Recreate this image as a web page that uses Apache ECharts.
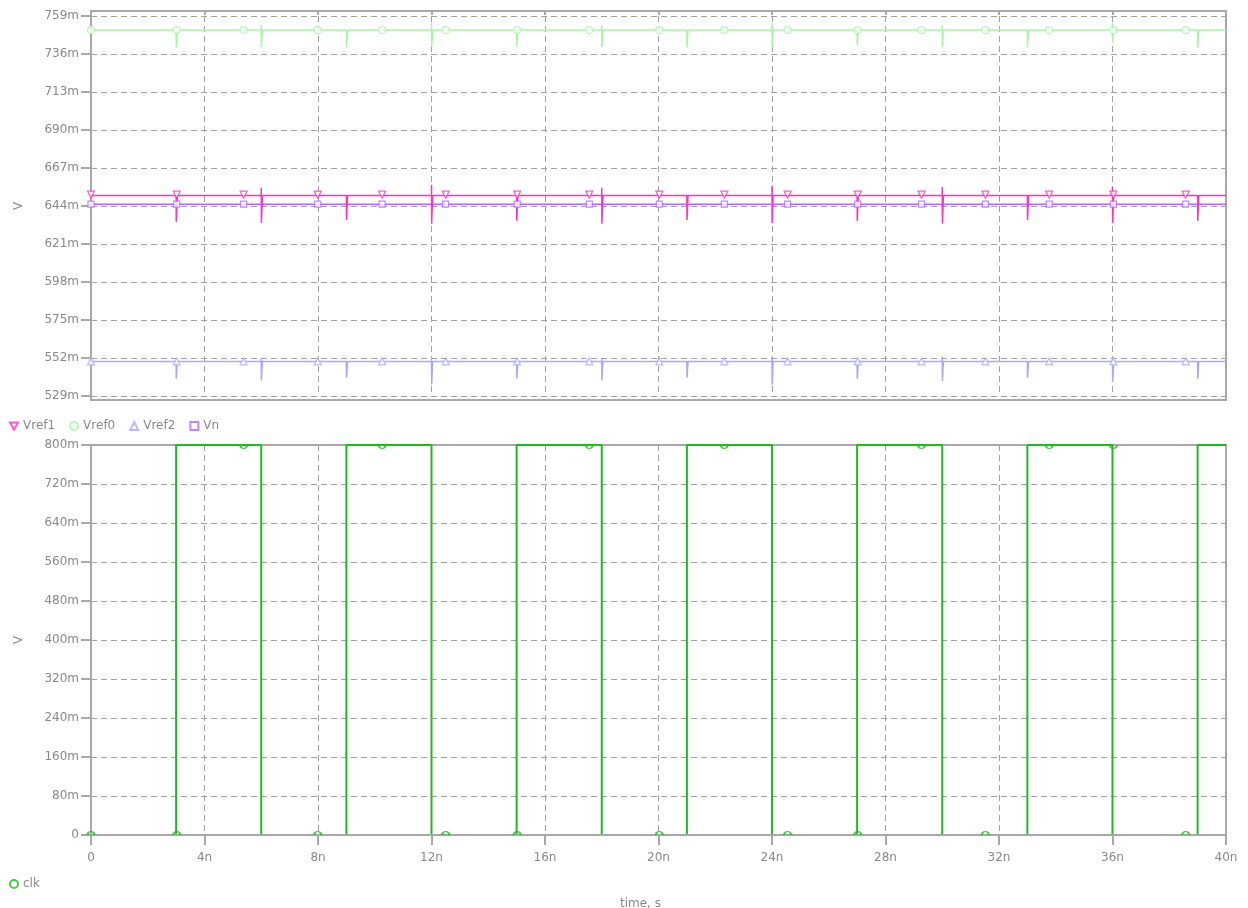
<!DOCTYPE html>
<html>
<head>
<meta charset="utf-8">
<title>Transient: Vref / clk</title>
<script src="https://cdn.jsdelivr.net/npm/echarts@6/dist/echarts.min.js"></script>
<style>
  html, body { margin: 0; padding: 0; background: #ffffff; }
  #chart { width: 1248px; height: 908px; }
</style>
</head>
<body>
<div id="chart"></div>
<script>
// Time axis in ns, voltages in mV
const timeTicks = [0, 4, 8, 12, 16, 20, 24, 28, 32, 36, 40];
const refTicks = [529, 552, 575, 598, 621, 644, 667, 690, 713, 736, 759];
const clkTicks = [0, 80, 160, 240, 320, 400, 480, 560, 640, 720, 800];

// clock edges (ns) and the clk level after each edge (mV)
const edgeTimes = [3, 6, 9, 12, 15, 18, 21, 24, 27, 30, 33, 36, 39];
const clkLevels = [800, 0, 800, 0, 800, 0, 800, 0, 800, 0, 800, 0, 800];

// settled levels of the reference nodes (mV)
const vref1Base = 650.3;
const vref0Base = 750.5;
const vref2Base = 549.9;
const vnBase = 645.1;

// glitch peaks at each clock edge (mV); null = no overshoot
const vref1High = [null, 655.0, null, 656.8, null, 655.0, null, 656.2, null, 655.5, null, 655.5, null];
const vref1Low  = [634.4, 633.8, 635.6, 633.2, 635.0, 633.2, 635.6, 633.8, 635.0, 633.2, 635.6, 633.8, 635.0];
const vref0High = [null, 753.6, null, 754.8, null, 753.6, null, 754.8, null, 753.6, null, 754.8, null];
const vref0Low  = [739.9, 740.2, 740.0, 740.2, 740.5, 740.2, 740.0, 740.2, 741.5, 740.2, 740.0, 743.0, 740.0];
const vref2High = [null, 552.2, null, 552.8, null, 552.2, null, 552.8, null, 552.8, null, 552.8, null];
const vref2Low  = [539.5, 538.4, 540.0, 535.8, 539.5, 538.4, 540.0, 535.8, 539.5, 538.0, 540.0, 537.5, 539.5];

// marker positions along the traces (ns) and clk marker levels (mV)
const markTimes = [0, 3.02, 5.38, 7.99, 10.26, 12.5, 15.02, 17.56, 20.03, 22.32, 24.55, 27.02, 29.27, 31.52, 33.77, 36.03, 38.58];
const clkMarkVals = [0, 0, 800, 0, 800, 0, 0, 800, 0, 800, 0, 0, 800, 0, 800, 800, 0];

const C = {
  vref1: '#ff33b8',
  vref0: '#a4f7a4',
  vref2: '#a8a8ff',
  vn: '#b266ff',
  clk: '#22b822',
  axis: '#a8a8a8',
  grid: '#a0a0a0',
  text: '#888888'
};
const FONT = 'DejaVu Sans';
const downTri = 'path://M0,0L10,0L5,9Z';
// circle halves for markers that sit on the plot edge
const upperHalf = 'path://M0,5A5,5 0 0 1 10,5';
const lowerHalf = 'path://M0,0A5,5 0 0 0 10,0';

function glitchTrace(base, highs, lows) {
  const pts = [[0, base]];
  edgeTimes.forEach((t, i) => {
    pts.push([t, base]);
    if (highs && highs[i] != null) pts.push([t, highs[i]]);
    if (lows) pts.push([t + 0.005, lows[i]]);
    pts.push([t + 0.04, base]);
  });
  pts.push([40, base]);
  return pts;
}

function clkTrace() {
  const pts = [[0, 0]];
  let level = 0;
  edgeTimes.forEach((t, i) => {
    pts.push([t, level]);
    level = clkLevels[i];
    pts.push([t, level]);
  });
  pts.push([40, level]);
  return pts;
}

function markers(base) {
  return markTimes.map(t => [t, base]);
}

function clkMarkers() {
  return markTimes.map((t, i) => {
    const v = clkMarkVals[i];
    const low = v === 0;
    return {
      value: [t, v],
      symbol: low ? upperHalf : lowerHalf,
      symbolSize: [7, 3.5],
      symbolOffset: [0, low ? -1.75 : 1.75]
    };
  });
}

const nFmt = v => (v === 0 ? '0' : v + 'n');
const mFmt = v => (v === 0 ? '0' : v + 'm');

const labelStyle = { color: C.text, fontFamily: FONT, fontSize: 12 };
const dashed = { show: true, lineStyle: { color: C.grid, type: [6, 4], width: 1 } };

function markerSeries(name, color, symbol, data, yIdx, extra) {
  return Object.assign({
    name: name,
    type: 'scatter',
    xAxisIndex: yIdx === 0 ? 0 : 1,
    yAxisIndex: yIdx,
    data: data,
    symbol: symbol,
    symbolSize: 7,
    z: 4,
    silent: true,
    itemStyle: { color: '#ffffff', borderColor: color, borderWidth: 1.2 }
  }, extra || {});
}

function traceSeries(name, color, data, yIdx, z, width) {
  return {
    name: name,
    type: 'line',
    xAxisIndex: yIdx === 0 ? 0 : 1,
    yAxisIndex: yIdx,
    data: data,
    showSymbol: false,
    symbol: 'none',
    animation: false,
    silent: true,
    z: z,
    lineStyle: { color: color, width: width || 1.5 },
    itemStyle: { color: color }
  };
}

const chart = echarts.init(document.getElementById('chart'), null, { renderer: 'canvas' });

chart.setOption({
  animation: false,
  backgroundColor: '#ffffff',
  grid: [
    { left: 91, right: 22, top: 16, height: 380 },
    { left: 91, right: 22, top: 445, height: 390 }
  ],
  graphic: [
    { type: 'rect', z: 1, silent: true, shape: { x: 91, y: 11, width: 1135, height: 389 },
      style: { fill: null, stroke: C.axis, lineWidth: 2 } },
    { type: 'rect', z: 1, silent: true, shape: { x: 91, y: 445, width: 1135, height: 390 },
      style: { fill: null, stroke: C.axis, lineWidth: 2 } },
    // time axis line sits above the low clk level
    { type: 'line', z: 10, silent: true, shape: { x1: 90, y1: 835, x2: 1227, y2: 835 },
      style: { stroke: C.axis, lineWidth: 2 } },
    { type: 'text', z: 1, silent: true, left: 620, top: 898,
      style: { text: 'time, s', fill: C.text, font: '12px "DejaVu Sans"', textAlign: 'center' } }
  ],
  legend: [
    {
      left: 4, top: 415, orient: 'horizontal', itemGap: 14, itemWidth: 8, itemHeight: 8,
      textStyle: labelStyle, selectedMode: false,
      data: [
        { name: 'Vref1', icon: downTri },
        { name: 'Vref0', icon: 'circle' },
        { name: 'Vref2', icon: 'triangle' },
        { name: 'Vn', icon: 'rect' }
      ]
    },
    {
      left: 4, top: 873, itemWidth: 8, itemHeight: 8,
      textStyle: labelStyle, selectedMode: false,
      data: [{ name: 'clk', icon: 'circle' }]
    }
  ],
  xAxis: [
    {
      gridIndex: 0, type: 'value', min: 0, max: 40, interval: 4,
      axisLine: { show: false }, axisTick: { show: false }, axisLabel: { show: false },
      splitLine: dashed
    },
    {
      gridIndex: 1, type: 'value', min: 0, max: 40, interval: 4,
      axisLine: { show: false },
      axisTick: { show: true, length: 10, lineStyle: { color: C.axis, width: 2 } },
      axisLabel: Object.assign({ formatter: nFmt, margin: 17 }, labelStyle),
      splitLine: dashed
    },
    {
      gridIndex: 0, type: 'value', min: 0, max: 40, interval: 4, position: 'top', offset: 5,
      axisLine: { show: false },
      axisTick: { show: true, inside: true, length: 4, lineStyle: { color: C.axis, width: 2 } },
      axisLabel: { show: false }, splitLine: { show: false }
    }
  ],
  yAxis: [
    {
      gridIndex: 0, type: 'value', min: 529, max: 759, interval: 23,
      name: 'V', nameLocation: 'middle', nameGap: 66, nameRotate: 90,
      nameTextStyle: labelStyle,
      axisLine: { show: false },
      axisTick: { show: true, length: 10, lineStyle: { color: C.axis, width: 2 } },
      axisLabel: Object.assign({ formatter: mFmt, margin: 12 }, labelStyle),
      splitLine: dashed
    },
    {
      gridIndex: 1, type: 'value', min: 0, max: 800, interval: 80,
      name: 'V', nameLocation: 'middle', nameGap: 66, nameRotate: 90,
      nameTextStyle: labelStyle,
      axisLine: { show: false },
      axisTick: { show: true, length: 10, lineStyle: { color: C.axis, width: 2 } },
      axisLabel: Object.assign({ formatter: mFmt, margin: 12 }, labelStyle),
      splitLine: dashed
    }
  ],
  series: [
    // marker series first so the legend takes their hollow symbols
    markerSeries('Vref1', C.vref1, downTri, markers(vref1Base), 0, { symbolOffset: [0, -1], symbolSize: [7, 7] }),
    markerSeries('Vref0', C.vref0, 'circle', markers(vref0Base), 0),
    markerSeries('Vref2', C.vref2, 'triangle', markers(vref2Base), 0),
    markerSeries('Vn', C.vn, 'rect', markers(vnBase), 0, { symbolSize: 6 }),
    markerSeries('clk', C.clk, 'circle', clkMarkers(), 1,
      { z: 11, itemStyle: { color: 'rgba(255,255,255,0)', borderColor: C.clk, borderWidth: 1.6 } }),

    traceSeries('Vn', C.vn, glitchTrace(vnBase, null, null), 0, 2),
    traceSeries('Vref2', C.vref2, glitchTrace(vref2Base, vref2High, vref2Low), 0, 2),
    traceSeries('Vref0', C.vref0, glitchTrace(vref0Base, vref0High, vref0Low), 0, 2),
    traceSeries('Vref1', C.vref1, glitchTrace(vref1Base, vref1High, vref1Low), 0, 3),
    traceSeries('clk', C.clk, clkTrace(), 1, 3, 2)
  ]
});
</script>
</body>
</html>
